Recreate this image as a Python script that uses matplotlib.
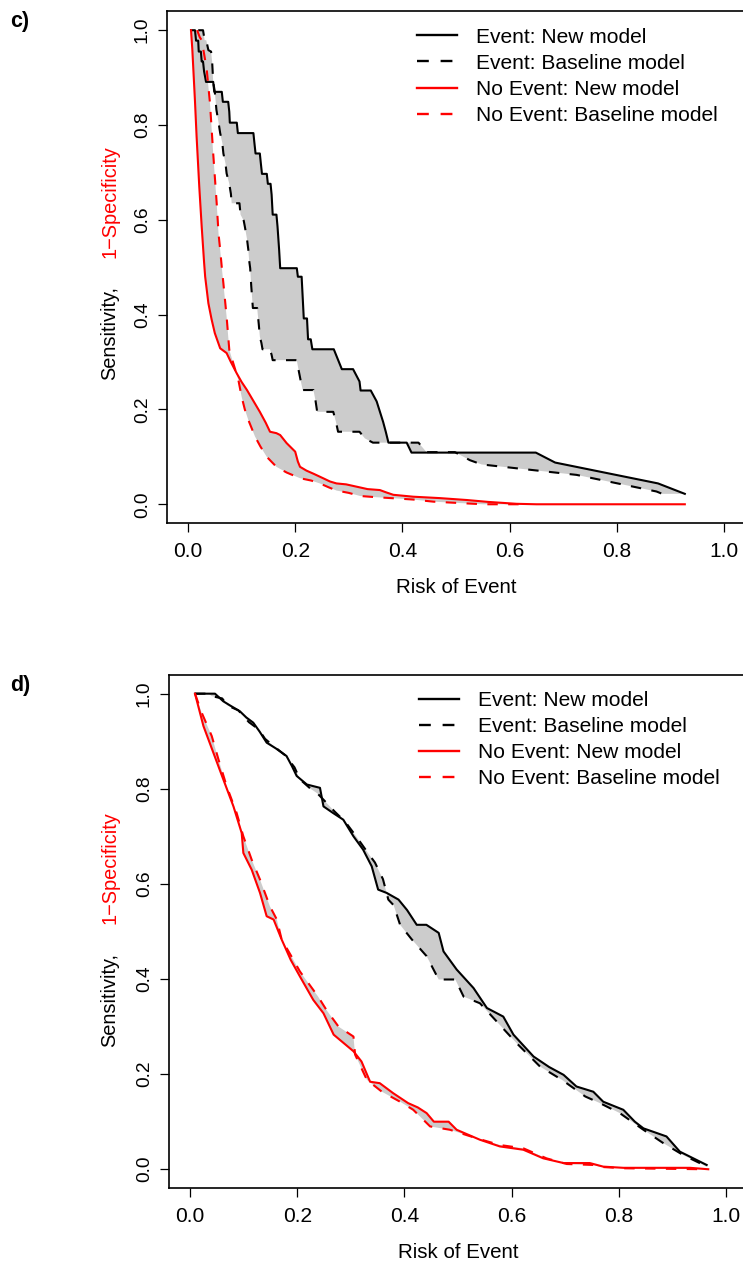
#imports
import matplotlib.pyplot as plt
from matplotlib.lines import Line2D
import matplotlib.transforms as mtransforms
import numpy as np

plt.rcParams['font.family'] = ['Liberation Sans', 'DejaVu Sans']

#panel c) -- (risk threshold, proportion above threshold)
c_event_new_x = [0.0056, 0.013, 0.015, 0.019, 0.020, 0.024, 0.0255, 0.028, 0.030, 0.0336, 0.047, 0.049,
                 0.063, 0.065, 0.075, 0.077, 0.078, 0.091, 0.093, 0.122, 0.124, 0.126, 0.134, 0.136,
                 0.138, 0.147, 0.149, 0.154, 0.156, 0.158, 0.165, 0.167, 0.170, 0.172, 0.203, 0.205,
                 0.212, 0.214, 0.216, 0.222, 0.224, 0.229, 0.232, 0.272, 0.287, 0.308, 0.320, 0.322,
                 0.341, 0.352, 0.364, 0.369, 0.374, 0.408, 0.417, 0.649, 0.685, 0.877, 0.927]
c_event_new_y = [1.0, 1.0, 0.978, 0.978, 0.955, 0.955, 0.934, 0.934, 0.913, 0.891, 0.891, 0.870,
                 0.870, 0.849, 0.849, 0.828, 0.805, 0.805, 0.783, 0.783, 0.761, 0.740, 0.740, 0.718,
                 0.697, 0.697, 0.676, 0.676, 0.653, 0.611, 0.611, 0.586, 0.537, 0.498, 0.498, 0.480,
                 0.480, 0.436, 0.392, 0.392, 0.348, 0.348, 0.327, 0.327, 0.285, 0.285, 0.259, 0.240,
                 0.240, 0.217, 0.174, 0.153, 0.130, 0.130, 0.109, 0.109, 0.088, 0.044, 0.022]

c_event_base_x = [0.019, 0.028, 0.031, 0.034, 0.038, 0.043, 0.045, 0.047, 0.050, 0.053, 0.057, 0.060,
                  0.064, 0.066, 0.070, 0.072, 0.077, 0.080, 0.0815, 0.096, 0.098, 0.104, 0.106, 0.110,
                  0.1125, 0.114, 0.116, 0.118, 0.121, 0.129, 0.132, 0.134, 0.137, 0.139, 0.153, 0.156,
                  0.158, 0.203, 0.206, 0.210, 0.214, 0.234, 0.238, 0.241, 0.271, 0.276, 0.280, 0.320,
                  0.330, 0.345, 0.430, 0.445, 0.498, 0.526, 0.548, 0.725, 0.874, 0.885]
c_event_base_y = [1.0, 1.0, 0.979, 0.979, 0.958, 0.955, 0.934, 0.891, 0.870, 0.832, 0.805, 0.783,
                  0.762, 0.740, 0.718, 0.698, 0.676, 0.655, 0.635, 0.635, 0.611, 0.598, 0.586, 0.560,
                  0.537, 0.515, 0.498, 0.460, 0.414, 0.414, 0.380, 0.354, 0.340, 0.327, 0.327, 0.315,
                  0.304, 0.304, 0.285, 0.262, 0.241, 0.241, 0.218, 0.195, 0.195, 0.174, 0.153, 0.153,
                  0.139, 0.130, 0.130, 0.110, 0.110, 0.093, 0.084, 0.062, 0.027, 0.022]

c_noevent_new_x = [0.0056, 0.008, 0.010, 0.013, 0.016, 0.021, 0.0255, 0.030, 0.032, 0.038, 0.044, 0.050,
                   0.060, 0.072, 0.080, 0.091, 0.100, 0.110, 0.122, 0.134, 0.145, 0.153, 0.165, 0.172,
                   0.184, 0.200, 0.205, 0.209, 0.221, 0.235, 0.252, 0.265, 0.277, 0.295, 0.315, 0.335,
                   0.358, 0.370, 0.383, 0.420, 0.470, 0.520, 0.560, 0.613, 0.650, 0.927]
c_noevent_new_y = [1.0, 0.960, 0.916, 0.850, 0.776, 0.670, 0.586, 0.510, 0.480, 0.424, 0.390, 0.361,
                   0.329, 0.319, 0.300, 0.276, 0.258, 0.241, 0.218, 0.195, 0.172, 0.153, 0.150, 0.146,
                   0.129, 0.111, 0.090, 0.079, 0.071, 0.064, 0.055, 0.048, 0.044, 0.042, 0.037, 0.032,
                   0.030, 0.025, 0.020, 0.016, 0.013, 0.009, 0.005, 0.001, 0.0, 0.0]

c_noevent_base_x = [0.017, 0.022, 0.0255, 0.030, 0.035, 0.041, 0.047, 0.0535, 0.057, 0.060, 0.063, 0.066,
                    0.072, 0.077, 0.0846, 0.094, 0.100, 0.106, 0.1125, 0.125, 0.135, 0.147, 0.165, 0.184,
                    0.209, 0.230, 0.246, 0.262, 0.277, 0.300, 0.321, 0.350, 0.383, 0.420, 0.458, 0.500,
                    0.551, 0.620]
c_noevent_base_y = [1.0, 0.985, 0.979, 0.950, 0.916, 0.846, 0.740, 0.635, 0.570, 0.537, 0.500, 0.466,
                    0.396, 0.326, 0.297, 0.262, 0.227, 0.200, 0.178, 0.143, 0.122, 0.100, 0.079, 0.067,
                    0.055, 0.050, 0.044, 0.036, 0.029, 0.024, 0.0175, 0.015, 0.0127, 0.010, 0.0055, 0.003,
                    0.0, 0.0]

#panel d)
d_event_new_x = [0.0093, 0.0466, 0.062, 0.075, 0.093, 0.105, 0.118, 0.130, 0.143, 0.160, 0.180, 0.190,
                 0.199, 0.218, 0.2425, 0.249, 0.267, 0.286, 0.305, 0.323, 0.339, 0.351, 0.367, 0.389,
                 0.405, 0.423, 0.441, 0.464, 0.473, 0.4975, 0.529, 0.554, 0.5845, 0.6035, 0.641, 0.670,
                 0.697, 0.721, 0.7525, 0.771, 0.8085, 0.830, 0.846, 0.889, 0.914, 0.939, 0.964]
d_event_new_y = [1.0, 1.0, 0.984, 0.975, 0.963, 0.950, 0.939, 0.920, 0.897, 0.885, 0.869, 0.848,
                 0.827, 0.809, 0.802, 0.763, 0.749, 0.735, 0.700, 0.672, 0.637, 0.588, 0.581, 0.567,
                 0.545, 0.514, 0.514, 0.497, 0.458, 0.420, 0.381, 0.339, 0.321, 0.283, 0.237, 0.215,
                 0.1985, 0.174, 0.163, 0.142, 0.125, 0.100, 0.086, 0.069, 0.037, 0.023, 0.009]

d_event_base_x = [0.0093, 0.035, 0.040, 0.060, 0.070, 0.090, 0.110, 0.128, 0.140, 0.158, 0.178, 0.195,
                  0.205, 0.225, 0.238, 0.255, 0.270, 0.290, 0.310, 0.332, 0.345, 0.360, 0.370, 0.380,
                  0.392, 0.414, 0.4415, 0.464, 0.495, 0.5105, 0.541, 0.572, 0.6095, 0.653, 0.694, 0.7375,
                  0.765, 0.802, 0.846, 0.883, 0.920, 0.951, 0.964]
d_event_base_y = [1.0, 1.0, 0.995, 0.990, 0.975, 0.965, 0.940, 0.925, 0.905, 0.888, 0.870, 0.845,
                  0.820, 0.800, 0.790, 0.770, 0.752, 0.730, 0.700, 0.665, 0.645, 0.610, 0.567, 0.555,
                  0.514, 0.483, 0.448, 0.399, 0.399, 0.363, 0.349, 0.311, 0.265, 0.216, 0.188, 0.153,
                  0.139, 0.118, 0.083, 0.055, 0.030, 0.013, 0.005]

d_noevent_new_x = [0.0093, 0.025, 0.0435, 0.062, 0.081, 0.0964, 0.0995, 0.115, 0.1306, 0.143, 0.156, 0.171,
                   0.188, 0.205, 0.230, 0.249, 0.268, 0.305, 0.320, 0.336, 0.354, 0.379, 0.407, 0.425,
                   0.4415, 0.455, 0.4825, 0.4975, 0.541, 0.578, 0.622, 0.659, 0.697, 0.746, 0.771, 0.8085,
                   0.933, 0.967]
d_noevent_new_y = [1.0, 0.932, 0.876, 0.820, 0.763, 0.707, 0.665, 0.630, 0.581, 0.532, 0.525, 0.483,
                   0.440, 0.4055, 0.356, 0.328, 0.283, 0.248, 0.2265, 0.184, 0.181, 0.160, 0.139, 0.130,
                   0.118, 0.100, 0.100, 0.083, 0.062, 0.048, 0.041, 0.023, 0.013, 0.013, 0.0055, 0.003,
                   0.003, 0.0]

d_noevent_base_x = [0.0093, 0.0218, 0.0405, 0.053, 0.0685, 0.087, 0.0995, 0.115, 0.1306, 0.149, 0.162, 0.171,
                    0.188, 0.205, 0.239, 0.2545, 0.277, 0.305, 0.308, 0.330, 0.358, 0.392, 0.4165, 0.448,
                    0.485, 0.535, 0.578, 0.622, 0.665, 0.703, 0.7525, 0.765, 0.810, 0.960]
d_noevent_base_y = [1.0, 0.960, 0.911, 0.862, 0.805, 0.749, 0.700, 0.651, 0.609, 0.553, 0.525, 0.483,
                    0.450, 0.416, 0.363, 0.335, 0.300, 0.279, 0.241, 0.188, 0.163, 0.142, 0.125, 0.090,
                    0.083, 0.065, 0.051, 0.044, 0.023, 0.011, 0.009, 0.005, 0.002, 0.0]

ticks = [0.0, 0.2, 0.4, 0.6, 0.8, 1.0]
tick_labels = ["0.0", "0.2", "0.4", "0.6", "0.8", "1.0"]
legend_labels = ["Event: New model", "Event: Baseline model",
                 "No Event: New model", "No Event: Baseline model"]

FS = 15.1        # legend, x tick labels
FS_XLAB = 14.8
FS_YLAB = 14.4
FS_YTICK = 13.8
LW = 1.5
DASH = (5, 5)
GREY = "#CCCCCC"


def shade(ax, xa, ya, xb, yb):
    #grey polygon between the new model curve and the baseline curve
    px = np.concatenate([np.asarray(xa), np.asarray(xb)[::-1]])
    py = np.concatenate([np.asarray(ya), np.asarray(yb)[::-1]])
    ax.fill(px, py, color=GREY, lw=0, zorder=1)


def panel(ax, ev_new, ev_base, ne_new, ne_base, ylab_bottom, ylab_top, ylab_x):
    shade(ax, *ev_new, *ev_base)
    shade(ax, *ne_new, *ne_base)
    ax.plot(*ev_new, color="black", lw=LW, zorder=3)
    ax.plot(*ev_base, color="black", lw=LW, dashes=DASH, zorder=3)
    ax.plot(*ne_new, color="red", lw=LW, zorder=3)
    ax.plot(*ne_base, color="red", lw=LW, dashes=DASH, zorder=3)

    ax.set_xlim(-0.04, 1.04)
    ax.set_ylim(-0.04, 1.04)
    ax.set_xticks(ticks)
    ax.set_xticklabels(tick_labels, fontsize=FS)
    ax.set_yticks(ticks)
    ax.set_yticklabels(tick_labels, rotation=90, va="center", ha="right", fontsize=FS_YTICK)
    ax.tick_params(axis="both", length=6.8, width=0.9, direction="out")
    ax.tick_params(axis="x", pad=6.5)
    ax.tick_params(axis="y", pad=4.5)
    for sp in ax.spines.values():
        sp.set_linewidth(1.2)

    ax.set_xlabel("Risk of Event", fontsize=FS_XLAB)
    ax.xaxis.set_label_coords(0.5, -0.107)

    #two coloured y label
    tr = mtransforms.blended_transform_factory(ax.transAxes, ax.transData)
    ax.text(ylab_x, ylab_bottom, "Sensitivity,", rotation=90, ha="center", va="bottom",
            fontsize=FS_YLAB, color="black", transform=tr)
    ax.text(ylab_x, ylab_top, "1\u2212Specificity", rotation=90, ha="center", va="top",
            fontsize=FS_YLAB, color="red", transform=tr)

    handles = [Line2D([], [], color="black", lw=LW + 0.2),
               Line2D([], [], color="black", lw=LW + 0.2, dashes=DASH),
               Line2D([], [], color="red", lw=LW + 0.2),
               Line2D([], [], color="red", lw=LW + 0.2, dashes=DASH)]
    ax.legend(handles, legend_labels, loc="upper left", bbox_to_anchor=(0.433, 0.968),
              frameon=False, fontsize=FS, handlelength=1.9, handletextpad=0.9,
              labelspacing=0.34, borderpad=0, borderaxespad=0)


fig = plt.figure(figsize=(7.43, 12.66), dpi=100)

ax_c = fig.add_axes([0.2242, 0.5867, 0.7790, 0.4044])
panel(ax_c,
      (c_event_new_x, c_event_new_y), (c_event_base_x, c_event_base_y),
      (c_noevent_new_x, c_noevent_new_y), (c_noevent_base_x, c_noevent_base_y),
      0.262, 0.758, -0.0978)

ax_d = fig.add_axes([0.2269, 0.0614, 0.7790, 0.4057])
panel(ax_d,
      (d_event_new_x, d_event_new_y), (d_event_base_x, d_event_base_y),
      (d_noevent_new_x, d_noevent_new_y), (d_noevent_base_x, d_noevent_base_y),
      0.258, 0.753, -0.101)

fig.text(10 / 743, 1 - 27 / 1266, "c)", fontsize=15.5, fontweight="bold", va="baseline")
fig.text(10 / 743, 1 - 691 / 1266, "d)", fontsize=15.5, fontweight="bold", va="baseline")

fig.savefig("out.png", dpi=100)
